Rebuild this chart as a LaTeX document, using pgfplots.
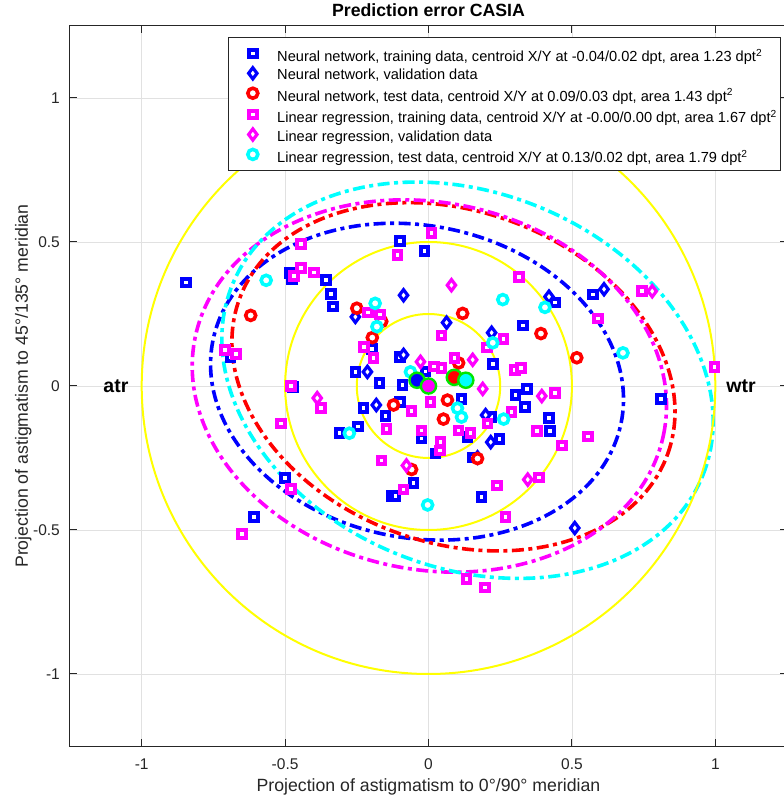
\documentclass[border=0pt]{standalone}
\usepackage{fontspec}
\setmainfont{Liberation Sans}
\usepackage{pgfplots}
\pgfplotsset{compat=1.18}

\definecolor{mblue}{RGB}{0,0,255}
\definecolor{mred}{RGB}{255,0,0}
\definecolor{mmag}{RGB}{255,0,255}
\definecolor{mcyan}{RGB}{0,255,255}
\definecolor{myellow}{RGB}{255,255,0}
\definecolor{mgreen}{RGB}{0,230,0}
\definecolor{axcol}{RGB}{38,38,38}
\definecolor{gridcol}{RGB}{225,225,225}

\pgfplotsset{
  sqmark/.style={only marks, mark=square*, mark size=3.8pt,
    mark options={draw=#1, fill=white, line width=4pt}},
  dmmark/.style={only marks, mark=diamond*, mark size=5.6pt,
    mark options={draw=#1, fill=white, line width=3.2pt}},
  ocmark/.style={only marks, mark=*, mark size=5pt,
    mark options={draw=#1, fill=white, line width=3.6pt}},
  ctmark/.style={only marks, mark=*, mark size=7.6pt,
    mark options={draw=mgreen, fill=#1, line width=2.4pt}},
}
\tikzset{fitell/.style={line width=3.6pt, dash pattern=on 12pt off 4.5pt on 4pt off 4.5pt}}
% struts giving the legend rows their spacing
\newcommand\rowA{\rule[-4.5pt]{0pt}{22pt}}
\newcommand\rowB{\rule[-4.5pt]{0pt}{19pt}}

\begin{document}
\begin{tikzpicture}
\begin{axis}[
  scale only axis, width=717pt, height=720pt,
  xmin=-1.25, xmax=1.25, ymin=-1.25, ymax=1.25,
  xtick={-1,-0.5,0,0.5,1}, ytick={-1,-0.5,0,0.5,1},
  xticklabels={-1,-0.5,0,0.5,1}, yticklabels={-1,-0.5,0,0.5,1},
  /pgf/number format/assume math mode=true,
  tick align=inside, major tick length=7pt,
  grid=major, major grid style={gridcol, line width=0.8pt},
  axis line style={axcol, line width=1pt},
  tick style={axcol, line width=1pt},
  ticklabel style={font=\fontsize{15.5}{18}\selectfont, text=axcol},
  xticklabel style={anchor=base, yshift=-23pt},
  yticklabel style={anchor=east, inner sep=0pt, xshift=-10pt},
  title={Prediction error CASIA},
  title style={at={(axis description cs:0.5,1.0049)}, anchor=base, inner sep=0pt,
    font=\bfseries\fontsize{17.7}{20}\selectfont},
  xlabel={Projection of astigmatism to 0°/90° meridian},
  ylabel={Projection of astigmatism to 45°/135° meridian},
  every axis x label/.style={at={(axis description cs:0.5,-0.0625)}, anchor=base,
    inner sep=0pt, font=\fontsize{17.7}{20}\selectfont, text=axcol},
  every axis y label/.style={at={(axis description cs:-0.0586,0.5)}, rotate=90,
    anchor=base, inner sep=0pt, font=\fontsize{17.7}{20}\selectfont, text=axcol},
  legend style={at={(axis description cs:0.2204,0.9847)}, anchor=north west,
    draw=axcol, line width=0.8pt, fill=white,
    font=\fontsize{14.6}{17}\selectfont, row sep=2.4pt, column sep=0pt,
    nodes={inner sep=0pt}, inner xsep=4pt, inner ysep=6.5pt},
  legend cell align=left,
  legend image code/.code={%
    \draw[mark repeat=1,#1] plot coordinates {(0pt,0pt)};
    \path (-20pt,0pt) (24pt,0pt);},
]

% fitted error ellipses
\draw[fitell, mblue, rotate around={-11.3:(axis cs:-0.04,0.015)}]
  (axis cs:-0.04,0.015) ellipse [x radius=0.726, y radius=0.542];
\draw[fitell, mred, rotate around={-19.8:(axis cs:0.087,0.032)}]
  (axis cs:0.087,0.032) ellipse [x radius=0.794, y radius=0.576];
\draw[fitell, mmag, rotate around={-11.8:(axis cs:0.003,0.0)}]
  (axis cs:0.003,0.0) ellipse [x radius=0.834, y radius=0.637];
\draw[fitell, mcyan, rotate around={-22:(axis cs:0.136,0.02)}]
  (axis cs:0.136,0.02) ellipse [x radius=0.885, y radius=0.651];

% neural network, training data
\addplot[sqmark=mblue] coordinates {
(-0.846,0.36) (-0.483,0.392) (-0.475,0.37) (-0.357,0.367) (-0.34,0.32) (-0.332,0.276)
(-0.196,0.129) (-0.255,0.049) (-0.171,0.01) (-0.472,-0.003) (-0.227,-0.077)
(-0.15,-0.105) (-0.311,-0.164) (-0.245,-0.14) (-0.1,0.504) (-0.014,0.469)
(0.44,0.29) (0.329,0.21) (0.573,0.318) (-0.091,0.003) (-0.1,0.1)
(0.115,-0.045) (0.304,-0.031) (0.343,-0.01) (-0.1,-0.056) (0.336,-0.073)
(0.22,-0.108) (0.42,-0.112) (0.423,-0.157) (-0.024,-0.182) (0.248,-0.185)
(0.136,-0.178) (0.024,-0.234) (0.154,-0.248) (-0.052,-0.336) (-0.129,-0.381)
(-0.115,-0.381) (0.185,-0.385) (-0.5,-0.32) (-0.608,-0.455) (0.224,0.077)
(0.81,-0.045) (-0.69,0.1) (-0.01,0.05)
};
\addlegendentry{\rowA Neural network, training data, centroid X/Y at -0.04/0.02 dpt, area 1.23 dpt\textsuperscript{2}}

% neural network, validation data
\addplot[dmmark=mblue] coordinates {
(-0.255,0.24) (-0.213,0.049) (-0.182,-0.066) (-0.087,0.315) (0.612,0.336)
(0.42,0.31) (0.063,0.22) (0.22,0.185) (-0.087,0.108) (0.199,-0.101)
(0.217,-0.195) (0.171,-0.248) (0.51,-0.493)
};
\addlegendentry{\rowB Neural network, validation data}

% neural network, test data
\addplot[ocmark=mred] coordinates {
(-0.62,0.245) (-0.25,0.27) (-0.163,0.224) (-0.196,0.168) (-0.122,-0.066)
(0.119,0.252) (0.392,0.182) (0.517,0.098) (0.105,0.08) (0.066,-0.049)
(0.052,-0.115) (0.171,-0.252) (-0.059,-0.29)
};
\addlegendentry{\rowA Neural network, test data, centroid X/Y at 0.09/0.03 dpt, area 1.43 dpt\textsuperscript{2}}

% linear regression, training data
\addplot[sqmark=mmag] coordinates {
(-0.444,0.493) (-0.469,0.381) (-0.444,0.41) (-0.4,0.394) (-0.21,0.255)
(-0.17,0.248) (-0.224,0.136) (-0.192,0.098) (-0.71,0.126) (-0.671,0.112)
(-0.479,0.0) (-0.374,-0.077) (-0.514,-0.13) (-0.147,-0.15) (0.01,0.531)
(-0.108,0.455) (0.315,0.378) (0.591,0.234) (0.045,0.175) (0.262,0.164)
(0.203,0.133) (0.02,0.067) (0.045,0.063) (0.09,0.097) (0.301,0.056)
(0.322,0.063) (0.44,-0.024) (0.007,-0.056) (-0.059,-0.087) (0.29,-0.091)
(0.465,-0.206) (0.378,-0.157) (0.556,-0.175) (-0.024,-0.154) (0.042,-0.195)
(0.105,-0.154) (0.147,-0.164) (0.04,-0.224) (-0.164,-0.259) (-0.087,-0.36)
(0.238,-0.346) (0.385,-0.318) (0.269,-0.455) (0.133,-0.671) (0.196,-0.699)
(-0.479,-0.357) (-0.65,-0.514) (0.745,0.329) (0.997,0.066) (0.206,-0.13)
};
\addlegendentry{\rowA Linear regression, training data, centroid X/Y at -0.00/0.00 dpt, area 1.67 dpt\textsuperscript{2}}

% linear regression, validation data
\addplot[dmmark=mmag] coordinates {
(0.08,0.35) (-0.028,0.084) (0.154,0.091) (0.189,-0.01) (0.395,-0.035)
(-0.388,-0.042) (-0.077,-0.276) (0.346,-0.325) (0.78,0.329)
};
\addlegendentry{\rowB Linear regression, validation data}

% linear regression, test data
\addplot[ocmark=mcyan] coordinates {
(-0.566,0.367) (-0.186,0.287) (-0.18,0.206) (-0.276,-0.164) (0.259,0.3)
(0.406,0.273) (0.678,0.115) (0.224,0.15) (-0.063,0.049) (0.101,-0.077)
(0.115,-0.108) (0.262,-0.115) (-0.003,-0.413)
};
\addlegendentry{\rowA Linear regression, test data, centroid X/Y at 0.13/0.02 dpt, area 1.79 dpt\textsuperscript{2}}

% reference circles at 0.25, 0.5 and 1 dpt
\draw[myellow, line width=2pt] (axis cs:0,0) ellipse [x radius=0.25, y radius=0.25];
\draw[myellow, line width=2pt] (axis cs:0,0) ellipse [x radius=0.5, y radius=0.5];
\draw[myellow, line width=2pt] (axis cs:0,0) ellipse [x radius=1, y radius=1];

% centroids
\addplot[ctmark=mblue, forget plot] coordinates {(-0.04,0.02)};
\addplot[ctmark=mmag, forget plot] coordinates {(0.0,0.0)};
\addplot[ctmark=mred, forget plot] coordinates {(0.09,0.03)};
\addplot[ctmark=mcyan, forget plot] coordinates {(0.13,0.02)};

\node[font=\bfseries\fontsize{19.5}{22}\selectfont] at (axis cs:-1.09,0) {atr};
\node[font=\bfseries\fontsize{19.5}{22}\selectfont] at (axis cs:1.09,0) {wtr};

\coordinate (bbSW) at (rel axis cs:0,0);
\coordinate (bbNE) at (rel axis cs:1,1);
\end{axis}
\pgfresetboundingbox
\path[use as bounding box] ([xshift=-70pt,yshift=-53pt]bbSW) rectangle ([xshift=-4pt,yshift=26pt]bbNE);
\end{tikzpicture}
\end{document}
